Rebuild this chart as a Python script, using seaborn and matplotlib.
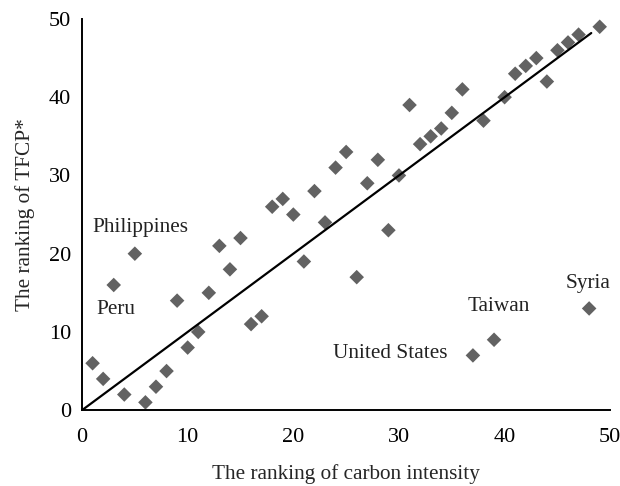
import numpy as np
import pandas as pd
import seaborn as sns
import matplotlib.pyplot as plt

# ranking of carbon intensity vs ranking of TFCP*
carbon_rank = list(range(1, 50))
tfcp_rank = [6, 4, 16, 2, 20, 1, 3, 5, 14, 8, 10, 15, 21, 18, 22, 11, 12, 26, 27, 25,
             19, 28, 24, 31, 33, 17, 29, 32, 23, 30, 39, 34, 35, 36, 38, 41, 7, 37, 9, 40,
             43, 44, 45, 42, 46, 47, 48, 13, 49]
labels = ["Philippines", "Peru", "United States", "Taiwan", "Syria"]
label_pos = [(1.0, 23.4), (1.4, 12.9), (23.8, 7.3), (36.5, 13.2), (45.8, 16.2)]

df = pd.DataFrame({"carbon": carbon_rank, "tfcp": tfcp_rank})

sns.set_style("white")
plt.rcParams['font.family'] = ['Liberation Serif', 'DejaVu Serif']

fig = plt.figure(figsize=(6.2, 4.86), dpi=100)
ax = fig.add_axes([0.1323, 0.156, 0.852, 0.805])

sns.scatterplot(data=df, x="carbon", y="tfcp", marker="D", s=55, color="#626262",
                edgecolor="none", ax=ax)
sns.lineplot(x=[0, 48.2], y=[0, 48.2], color="black", lw=1.6, ax=ax)

for t, (x, y) in zip(labels, label_pos):
    ax.text(x, y, t, fontsize=15.3, color="#222222", va="center")

ax.set_xlim(0, 50)
ax.set_ylim(0, 50)
ax.set_xticks([0, 10, 20, 30, 40, 50])
ax.set_yticks([0, 10, 20, 30, 40, 50])
ax.tick_params(direction="in", length=5, width=1.2, labelsize=16, colors="black")
ax.tick_params(axis="x", pad=13)
ax.tick_params(axis="y", pad=8)
for s in ["top", "right"]:
    ax.spines[s].set_visible(False)
for s in ["left", "bottom"]:
    ax.spines[s].set_color("black")
    ax.spines[s].set_linewidth(1.4)

ax.set_xlabel("The ranking of carbon intensity", fontsize=15.3, labelpad=12)
ax.set_ylabel("The ranking of TFCP*", fontsize=15.3, labelpad=10)

fig.savefig("out.png", dpi=100)
